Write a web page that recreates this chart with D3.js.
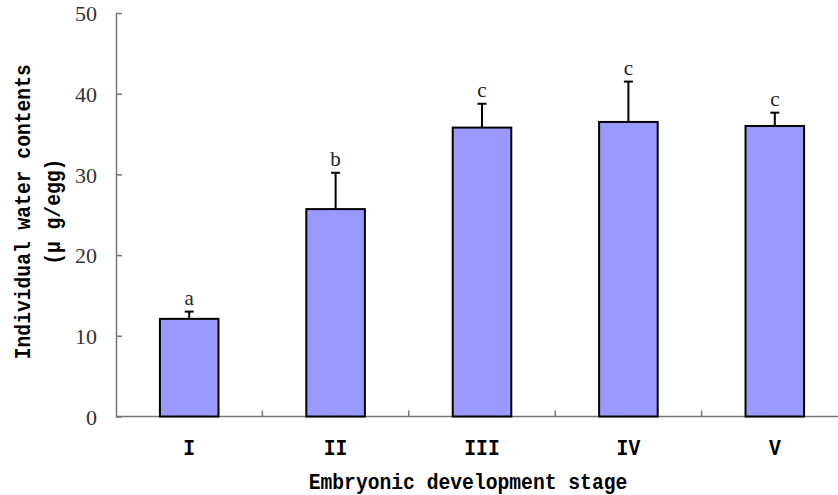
<!DOCTYPE html>
<html>
<head>
<meta charset="utf-8">
<script src="https://cdn.jsdelivr.net/npm/d3@7"></script>
<style>
  body { margin: 0; background: #fff; }
</style>
</head>
<body>
<div id="chart"></div>
<script>
const width = 838
const height = 495
const margins = { top: 13, right: -10, bottom: 78, left: 116 }

// DATA
const stages = ["I", "II", "III", "IV", "V"]
const waterMeans = [12.1, 25.7, 35.8, 36.5, 36.0]
const waterErrors = [0.9, 4.5, 2.95, 5.0, 1.65]
const letters = ["a", "b", "c", "c", "c"]
const yTicks = [0, 10, 20, 30, 40, 50]

const svg = d3
  .select("#chart")
  .append("svg")
  .attr("width", width)
  .attr("height", height)

const xScale = d3
  .scaleBand()
  .domain(stages)
  .range([margins.left, width - margins.right])
  .paddingInner(0.6)
  .paddingOuter(0.3)

const yScale = d3
  .scaleLinear()
  .domain([0, 50])
  .range([height - margins.bottom - 0.5, margins.top])

const monoFont = "'Liberation Mono', 'DejaVu Sans Mono', monospace"
const serifFont = "'Liberation Serif', 'DejaVu Serif', serif"
const charW = 11.8 // width of one character of the mono labels

// squeeze mono text so it looks like the taller SimSun glyphs
const monoText = (sel) =>
  sel
    .style("font-family", monoFont)
    .style("font-weight", "bold")
    .style("font-size", "22px")
    .attr("lengthAdjust", "spacingAndGlyphs")
    .attr("textLength", (d, i, n) => d3.select(n[i]).text().length * charW)

// Y AXIS
const yAxisGenerator = d3
  .axisRight()
  .scale(yScale)
  .tickValues(yTicks)
  .tickSizeInner(6)
  .tickSizeOuter(0)
  .tickFormat(d3.format("d"))

const yAxis = svg
  .append("g")
  .attr("class", "y-axis")
  .attr("transform", `translate(${margins.left},0)`)
  .call(yAxisGenerator)

yAxis.select(".domain").attr("stroke", "#777").attr("stroke-width", 1.5)
yAxis.selectAll(".tick line").attr("stroke", "#777").attr("stroke-width", 1.5)
yAxis
  .selectAll(".tick text")
  .attr("x", -19)
  .attr("text-anchor", "end")
  .attr("dy", "0.35em")
  .style("font-family", serifFont)
  .style("font-size", "22px")
  .style("fill", "#333")

// X AXIS
const xAxisLine = svg.append("g").attr("class", "x-axis")
xAxisLine
  .append("line")
  .attr("x1", margins.left)
  .attr("x2", width)
  .attr("y1", yScale(0))
  .attr("y2", yScale(0))
  .attr("stroke", "#777")
  .attr("stroke-width", 1.5)

const step = xScale.step()
xAxisLine
  .selectAll(".sep")
  .data(stages.slice(1))
  .join("line")
  .attr("class", "sep")
  .attr("x1", (d) => xScale(d) - step * 0.3)
  .attr("x2", (d) => xScale(d) - step * 0.3)
  .attr("y1", yScale(0))
  .attr("y2", yScale(0) - 6)
  .attr("stroke", "#777")
  .attr("stroke-width", 1.5)

xAxisLine
  .selectAll(".cat")
  .data(stages)
  .join("text")
  .attr("class", "cat")
  .attr("x", (d) => xScale(d) + xScale.bandwidth() / 2)
  .attr("y", yScale(0) + 38)
  .attr("text-anchor", "middle")
  .style("fill", "#000")
  .text((d) => d)
  .call(monoText)

// BARS
const barData = stages.map((s, i) => ({
  stage: s,
  value: waterMeans[i],
  err: waterErrors[i],
  letter: letters[i],
}))

const bars = svg.append("g").attr("class", "bars")

bars
  .selectAll(".err")
  .data(barData)
  .join("line")
  .attr("class", "err")
  .attr("x1", (d) => xScale(d.stage) + xScale.bandwidth() / 2)
  .attr("x2", (d) => xScale(d.stage) + xScale.bandwidth() / 2)
  .attr("y1", (d) => yScale(d.value))
  .attr("y2", (d) => yScale(d.value + d.err))
  .attr("stroke", "#000")
  .attr("stroke-width", 2)

bars
  .selectAll(".cap")
  .data(barData)
  .join("line")
  .attr("class", "cap")
  .attr("x1", (d) => xScale(d.stage) + xScale.bandwidth() / 2 - 4.5)
  .attr("x2", (d) => xScale(d.stage) + xScale.bandwidth() / 2 + 4.5)
  .attr("y1", (d) => yScale(d.value + d.err))
  .attr("y2", (d) => yScale(d.value + d.err))
  .attr("stroke", "#000")
  .attr("stroke-width", 2)

bars
  .selectAll(".bar")
  .data(barData)
  .join("rect")
  .attr("class", "bar")
  .attr("x", (d) => xScale(d.stage))
  .attr("y", (d) => yScale(d.value))
  .attr("width", xScale.bandwidth())
  .attr("height", (d) => yScale(0) - yScale(d.value))
  .attr("fill", "#9999ff")
  .attr("stroke", "#000")
  .attr("stroke-width", 2)

bars
  .selectAll(".letter")
  .data(barData)
  .join("text")
  .attr("class", "letter")
  .attr("x", (d) => xScale(d.stage) + xScale.bandwidth() / 2)
  .attr("y", (d) => yScale(d.value + d.err) - 7)
  .attr("text-anchor", "middle")
  .style("font-family", serifFont)
  .style("font-size", "21px")
  .style("fill", "#222")
  .text((d) => d.letter)

// AXIS TITLES
svg
  .append("text")
  .attr("x", (margins.left + width) / 2 - 9)
  .attr("y", height - 6)
  .attr("text-anchor", "middle")
  .text("Embryonic development stage")
  .call(monoText)

const yMid = (yScale(0) + yScale(50)) / 2 - 3
const yTitle = svg
  .append("g")
  .attr("transform", `translate(0,${yMid}) rotate(-90)`)

yTitle
  .append("text")
  .attr("x", 0)
  .attr("y", 30)
  .attr("text-anchor", "middle")
  .text("Individual water contents")
  .call(monoText)

yTitle
  .append("text")
  .attr("x", 0)
  .attr("y", 60)
  .attr("text-anchor", "middle")
  .text("(μ g/egg)")
  .call(monoText)
</script>
</body>
</html>
